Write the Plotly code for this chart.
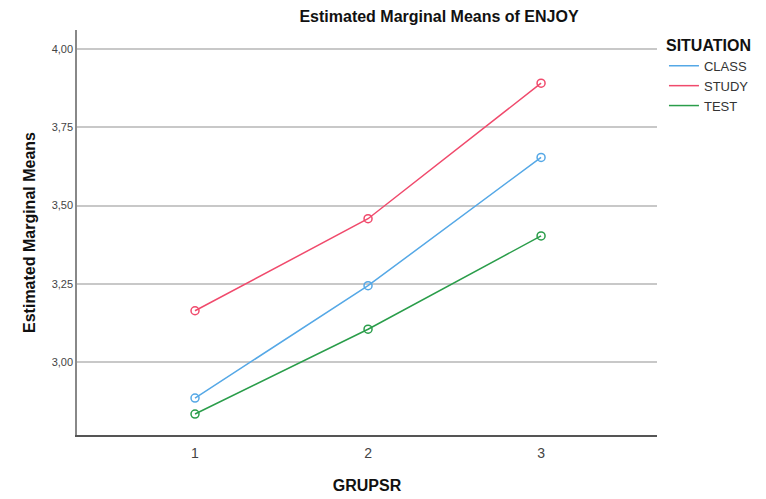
import plotly.graph_objects as go

groups = [1, 2, 3]
series_names = ["CLASS", "STUDY", "TEST"]
class_vals = [2.885, 3.244, 3.654]
study_vals = [3.164, 3.458, 3.891]
test_vals = [2.834, 3.105, 3.403]
colors = ["#55A8E6", "#F04A6C", "#2A9D4A"]
y_ticks = [3.00, 3.25, 3.50, 3.75, 4.00]

FONT = "Liberation Sans, Arial, sans-serif"

fig = go.Figure()
for name, vals, col in zip(series_names, [class_vals, study_vals, test_vals], colors):
    fig.add_trace(go.Scatter(
        x=groups, y=vals, name=name, mode="lines+markers", legendgroup=name, showlegend=False,
        line=dict(color=col, width=1.5),
        marker=dict(symbol="circle-open", size=8, color=col, line=dict(width=1.5, color=col)),
    ))
# legend entries: line only (as in the reference)
for name, col in zip(series_names, colors):
    fig.add_trace(go.Scatter(
        x=[None], y=[None], name=name, mode="lines", legendgroup=name, showlegend=True,
        line=dict(color=col, width=1.5),
    ))

fig.update_layout(
    width=766, height=499,
    margin=dict(l=77, r=109, t=30, b=64),
    paper_bgcolor="white", plot_bgcolor="white",
    separators=",.",
    font=dict(family=FONT, color="#222"),
    title=dict(text="<b>Estimated Marginal Means of ENJOY</b>", x=439/766, xanchor="center",
               y=1 - 16/499, yanchor="middle", font=dict(size=16, color="#111")),
    xaxis=dict(range=[0.318, 3.67], tickvals=groups, ticktext=[str(g) for g in groups],
               showgrid=False, zeroline=False, showline=True, linecolor="#555", linewidth=1.5,
               ticks="", tickfont=dict(size=14, color="#444"), ticklabelstandoff=4, automargin=False,
               title=dict(text="<b>GRUPSR</b>", font=dict(size=16, color="#111"), standoff=20)),
    yaxis=dict(range=[2.767, 4.061], tickvals=y_ticks, tickformat=".2f",
               showgrid=True, gridcolor="#C8C8C8", gridwidth=1.5, zeroline=False,
               showline=True, linecolor="#888", linewidth=1.5, ticks="", automargin=False,
               tickfont=dict(size=11, color="#444"),
               title=dict(text="<b>Estimated Marginal Means</b>", font=dict(size=16, color="#111"), standoff=12)),
    legend=dict(x=1.012, xanchor="left", y=1.0, yanchor="top",
                title=dict(text="<b>SITUATION</b>", font=dict(size=16, color="#111"), side="top"),
                font=dict(size=13, color="#333"), itemwidth=30, tracegroupgap=0,
                bgcolor="rgba(0,0,0,0)"),
)

fig.write_html("out.html")
